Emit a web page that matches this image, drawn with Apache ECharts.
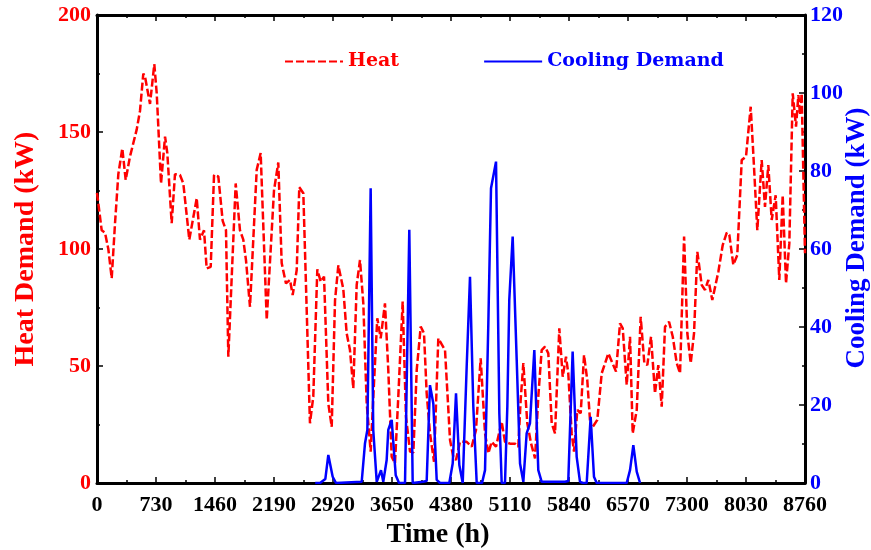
<!DOCTYPE html>
<html>
<head>
<meta charset="utf-8">
<script src="https://cdn.jsdelivr.net/npm/echarts@6/dist/echarts.min.js"></script>
<style>html,body{margin:0;padding:0;background:#fff}#c{width:871px;height:550px}</style>
</head>
<body>
<div id="c"></div>
<script>
// Time (h) of each heat reading and the heat demand (kW)
var heatTime = [0,58,99,140,182,223,264,313,355,408,491,532,573,594,656,709,739,792,842,870,
924,965,1027,1068,1142,1234,1274,1324,1357,1407,1448,1501,1555,1596,1625,1716,1769,1810,1844,1893,
1976,2025,2100,2190,2243,2285,2338,2388,2421,2471,2503,2553,2635,2676,2726,2768,2809,2862,2904,2945,
2986,3047,3089,3130,3171,3213,3254,3295,3337,3386,3427,3468,3510,3563,3604,3646,3687,3728,3782,3823,
3873,3914,3956,4005,4046,4079,4120,4170,4223,4306,4368,4408,4442,4491,4574,4636,4689,4747,4801,4842,
4883,4937,5007,5048,5110,5172,5213,5242,5275,5324,5370,5420,5460,5502,5543,5584,5626,5667,5720,5762,
5803,5831,5873,5902,5943,5985,6026,6066,6108,6149,6190,6245,6327,6422,6471,6505,6554,6595,6628,6678,
6727,6772,6809,6855,6904,6945,6987,7028,7078,7124,7173,7214,7264,7304,7346,7387,7428,7482,7523,7564,
7613,7688,7742,7792,7824,7873,7922,7977,8030,8088,8120,8170,8224,8265,8306,8348,8397,8442,8484,8525,
8566,8608,8649,8678,8699,8719,8760];
var heatValue = [124,108,107,100,87.5,111,132,143,129.5,139.5,151,159,175,173.6,162,179,166.5,128,148,141,
111,132,131.6,128,104,121.7,104,108,91.7,92.4,131.6,131,112,108,54,128,108,104,95,75.3,
133.8,141,69.7,125,137,94,85.3,86.8,80.3,91,126.4,123.8,25.5,36.9,91.3,86,88.2,34,24,78,
93,83,64,56.8,40.5,84.6,95.3,76.8,34,13.4,42.6,70.4,61.8,76.8,48.3,11.2,8.4,36.9,77.5,28.3,
13.4,13,48.3,66.8,64,38.3,21.2,9.1,61.8,56.8,18.4,11.2,9.8,17.6,17.6,15.5,22.6,53.3,21.2,12.7,
17.6,15.5,26.2,17.6,16.8,16.8,15.5,35.5,51.2,25.5,17,10.5,36.9,56.8,58.3,55.4,25.5,21.2,66.1,45.4,
54,46.9,21.2,13.4,31.2,29.8,54.7,44,22.6,24.8,27,46.9,55.4,47.6,68.2,66.1,41.9,62.5,21.2,31.2,
71,51.2,50.4,62.5,38.3,50.4,32.6,66.8,68.9,62.5,51.2,46.9,105.3,64,51.2,64,98.8,84.6,82.5,86.8,
78.2,90.3,101.7,107,106,93.2,97.4,138,139.5,160.8,141,108,138,118,135.9,112.4,123,86.8,123,85.3,
102.4,166.5,152.3,165.8,157.3,166.5,98.2];

// Time (h) of each cooling reading and the cooling demand (kW)
var coolTime = [2700,2760,2825,2862,2916,2957,3275,3316,3345,3386,3418,3461,3514,3542,3584,3604,3646,3696,3737,3811,
3864,3906,4034,4079,4120,4161,4203,4244,4359,4401,4442,4483,4525,4574,4615,4656,4698,4764,4801,4842,
4875,4937,4978,5007,5048,5077,5101,5143,5193,5234,5275,5316,5357,5411,5460,5502,5790,5831,5885,5935,
5976,6013,6059,6108,6149,6183,6554,6595,6636,6678,6719];
var coolValue = [0,0,1,7.2,1.6,0,0.3,10.2,13.6,75.6,13.6,0.3,3.3,0.3,5.9,13.6,16.2,2,0,0,
64.9,0,0.3,0.5,25.1,20.4,0.8,0,0,5,23,4.6,0,29.8,52.9,19.6,0,0,3.3,41,
75.6,82.4,17.9,0,0,19.6,46.9,63.2,31.5,5,0.3,12.7,15.3,34.1,3.3,0.3,0.3,0.5,33.7,6.7,
0.3,0,0,17,1.6,0,0,3.3,9.7,2.9,0];

var seriesNames = ['Heat', 'Cooling Demand'];
var xLabelName = 'Time (h)';
var yLeftName = 'Heat Demand (kW)';
var yRightName = 'Cooling Demand (kW)';

var RED = '#ff0000', BLUE = '#0000ff';
var serifFam = '"Liberation Serif", "Times New Roman", serif';
var tickFont = {fontFamily: serifFam, fontWeight: 'bold', fontSize: 22};
var titleFont = {fontFamily: serifFam, fontWeight: 'bold', fontSize: 28};
function plain(v) { return String(v); }

function frameAxis(extra) {
  return Object.assign({
    axisLine: {show: true, onZero: false, lineStyle: {color: '#000', width: 3}},
    axisTick: {show: true, inside: true, length: 6, lineStyle: {color: '#000', width: 1.5}},
    minorTick: {show: true, splitNumber: 2, length: 3, lineStyle: {color: '#000', width: 1.5}},
    splitLine: {show: false},
    minorSplitLine: {show: false}
  }, extra);
}

var chart = echarts.init(document.getElementById('c'), null, {renderer: 'canvas'});
chart.setOption({
  animation: false,
  backgroundColor: '#fff',
  grid: {left: 97, right: 66, top: 15, bottom: 67, containLabel: false, outerBoundsMode: 'none'},
  legend: {
    left: 279, top: 47,
    itemWidth: 58, itemHeight: 14, itemGap: 84,
    itemStyle: {opacity: 0},
    textStyle: {fontFamily: '"DejaVu Serif", serif', fontWeight: 'bold', fontSize: 19},
    data: [
      {name: seriesNames[0], textStyle: {color: RED}},
      {name: seriesNames[1], textStyle: {color: BLUE}}
    ]
  },
  graphic: [{
    type: 'text', x: 857, y: 238, rotation: Math.PI / 2, silent: true,
    style: {
      text: yRightName, fill: BLUE, align: 'center', verticalAlign: 'middle',
      font: 'bold 27px ' + serifFam
    }
  }],
  xAxis: [
    frameAxis({
      type: 'value', position: 'bottom', min: 0, max: 8760, interval: 730,
      axisLabel: Object.assign({color: '#000', margin: 11, formatter: plain}, tickFont),
      name: xLabelName, nameLocation: 'middle', nameGap: 30,
      nameTextStyle: Object.assign({color: '#000', padding: [0, 26, 0, 0]}, titleFont)
    }),
    frameAxis({
      type: 'value', position: 'top', min: 0, max: 8760, interval: 730,
      axisLabel: {show: false}
    })
  ],
  yAxis: [
    frameAxis({
      type: 'value', position: 'left', min: 0, max: 200, interval: 50,
      axisLabel: Object.assign({color: RED, margin: 6, formatter: plain}, tickFont),
      name: yLeftName, nameLocation: 'middle', nameGap: 57,
      nameTextStyle: Object.assign({color: RED}, titleFont)
    }),
    frameAxis({
      type: 'value', position: 'right', min: 0, max: 120, interval: 20,
      axisLabel: Object.assign({color: BLUE, margin: 5, formatter: plain}, tickFont)
    })
  ],
  series: [
    {
      name: seriesNames[0], type: 'line', xAxisIndex: 0, yAxisIndex: 0,
      showSymbol: false, symbol: 'none',
      lineStyle: {color: RED, width: 2.5, type: [8, 3]},
      itemStyle: {color: RED},
      data: heatTime.map(function (t, i) { return [t, heatValue[i]]; })
    },
    {
      name: seriesNames[1], type: 'line', xAxisIndex: 0, yAxisIndex: 1,
      showSymbol: false, symbol: 'none',
      lineStyle: {color: BLUE, width: 2.5},
      itemStyle: {color: BLUE},
      data: coolTime.map(function (t, i) { return [t, coolValue[i]]; })
    }
  ]
});
</script>
</body>
</html>
